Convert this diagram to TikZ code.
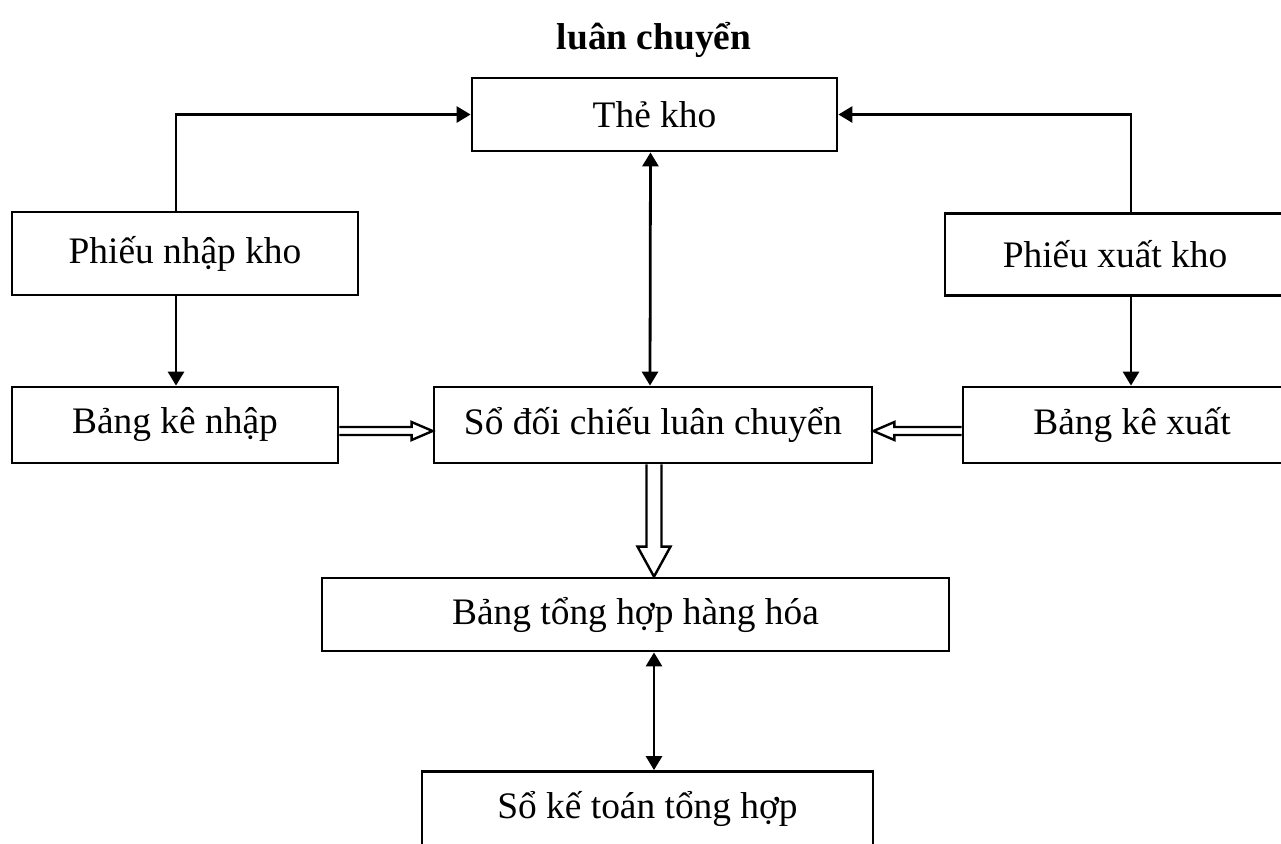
\documentclass[tikz,border=0pt]{standalone}
\usepackage{fontspec}
\setmainfont{Liberation Serif}
\usetikzlibrary{arrows.meta,calc}
\tikzset{
  box/.style={draw, line width=1.4pt, rectangle, inner sep=0pt, font=\fontsize{18.7}{22}\selectfont, fill=white},
  conn/.style={line width=1.4pt},
  tip/.style={-{Triangle[length=7pt,width=8pt]}},
  tiptwo/.style={{Triangle[length=7pt,width=8pt]}-{Triangle[length=7pt,width=8pt]}},
  hollow/.style={draw, line width=1.2pt, fill=white, line join=miter}
}
\begin{document}
\begin{tikzpicture}[x=0.5pt,y=-0.5pt]
\useasboundingbox (0,0) rectangle (1281,843);
\begin{scope}
\clip (0,0) rectangle (1281,843);
\node[font=\fontsize{18.7}{22}\selectfont\bfseries] (title) at (654,40) {luân chuyển};
\node[box, minimum width=182.5pt, minimum height=36.5pt] (the) at (654.5,114.5) {Thẻ kho};
\node[box, minimum width=173pt, minimum height=41.5pt] (pnk) at (185,253.5) {Phiếu nhập kho};
\node[box, minimum width=170pt, minimum height=41pt] (pxk) at (1115,254.5) {Phiếu xuất kho};
\node[box, minimum width=163pt, minimum height=38pt] (bkn) at (175,425) {Bảng kê nhập};
\node[box, minimum width=219pt, minimum height=38pt] (sdc) at (653,425) {Sổ đối chiếu luân chuyển};
\node[box, minimum width=169pt, minimum height=38pt] (bkx) at (1132,425) {Bảng kê xuất};
\node[box, minimum width=313.5pt, minimum height=36.5pt] (bth) at (635.5,614.5) {Bảng tổng hợp hàng hóa};
\node[box, minimum width=225.5pt, minimum height=37pt] (skt) at (647.5,808.5) {Sổ kế toán tổng hợp};

\draw[conn,tip] ([xshift=-4.5pt]pnk.north) |- (the.west);
\draw[conn,tip] ([xshift=8pt]pxk.north) |- (the.east);
\draw[conn,tiptwo] ([xshift=-2pt]the.south) -- ([xshift=-1.5pt]sdc.north);
\draw[conn,tip] ([xshift=-4.5pt]pnk.south) -- ([xshift=-4.5pt]pnk.south |- bkn.north);
\draw[conn,tip] ([xshift=8pt]pxk.south) -- ([xshift=8pt]pxk.south |- bkx.north);
\draw[conn,tiptwo] ([xshift=9.25pt]bth.south) -- ([xshift=9.25pt]bth.south |- skt.north);

% hollow arrow: Bang ke nhap -> So doi chieu
\coordinate (a1) at (bkn.east |- 0,431);
\coordinate (a2) at (sdc.west |- 0,431);
\draw[hollow] ($(a1)+(0,-4)$) -- ($(a2)+(-21,-4)$) -- ($(a2)+(-21,-9)$) -- (a2)
  -- ($(a2)+(-21,9)$) -- ($(a2)+(-21,4)$) -- ($(a1)+(0,4)$);
% hollow arrow: Bang ke xuat -> So doi chieu
\coordinate (b1) at (bkx.west |- 0,431);
\coordinate (b2) at (sdc.east |- 0,431);
\draw[hollow] ($(b1)+(0,-4)$) -- ($(b2)+(21,-4)$) -- ($(b2)+(21,-9)$) -- (b2)
  -- ($(b2)+(21,9)$) -- ($(b2)+(21,4)$) -- ($(b1)+(0,4)$);
% hollow arrow: So doi chieu -> Bang tong hop
\coordinate (c1) at (sdc.south -| 654,0);
\coordinate (c2) at (bth.north -| 654,0);
\draw[hollow] ($(c1)+(-7.5,0)$) -- ($(c2)+(-7.5,-30)$) -- ($(c2)+(-16.5,-30)$) -- (c2)
  -- ($(c2)+(16.5,-30)$) -- ($(c2)+(7.5,-30)$) -- ($(c1)+(7.5,0)$);
\end{scope}
\end{tikzpicture}
\end{document}
